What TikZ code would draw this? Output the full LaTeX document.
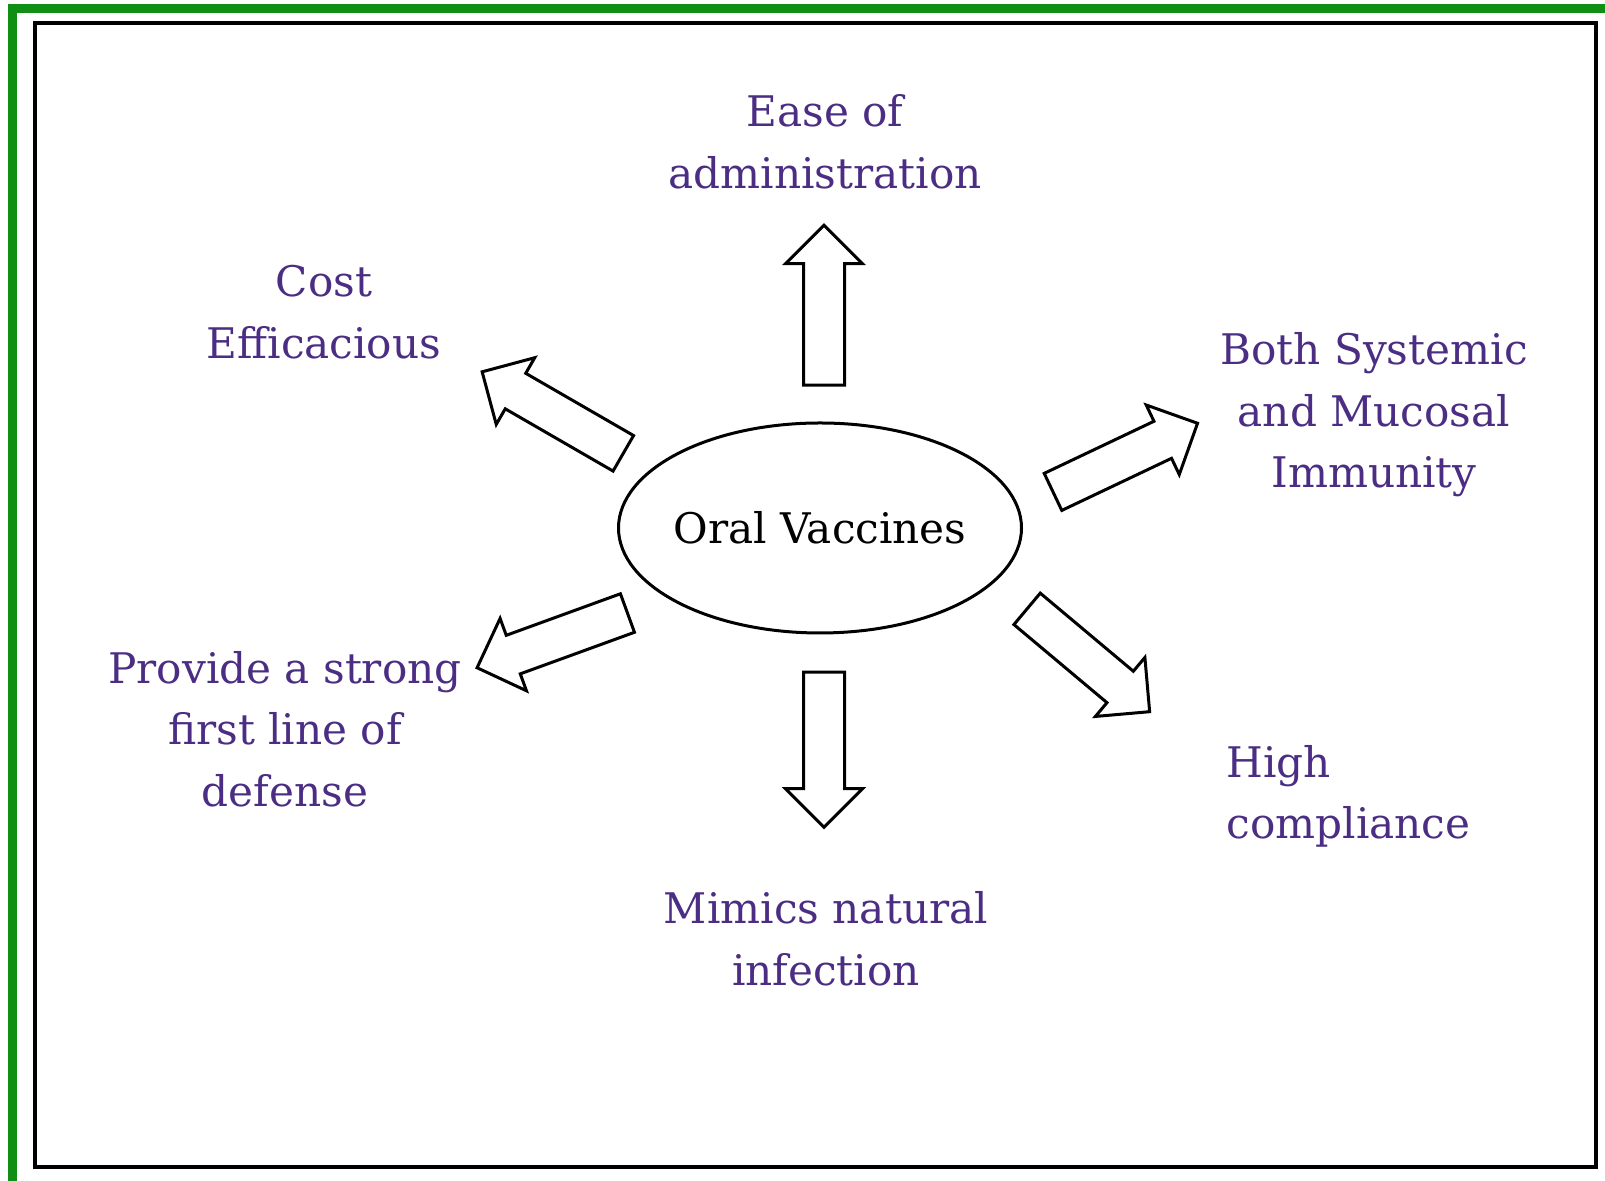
\documentclass[tikz,border=0pt]{standalone}
\usepackage{fontspec}
\setmainfont{DejaVu Serif}
\usetikzlibrary{shapes.geometric, shapes.arrows, positioning}
\definecolor{frameGreen}{HTML}{0F8F14}
\definecolor{labelPurple}{HTML}{4B2E83}

\begin{document}
\begin{tikzpicture}[
    font=\fontsize{12}{17.5}\selectfont,
    blockarrow/.style={single arrow, draw=black, fill=white, line width=0.03cm,
      minimum height=1.6cm, single arrow head extend=0.18cm,
      inner ysep=0.19cm, inner xsep=0pt},
    benefit/.style={text=labelPurple, align=center, inner sep=0pt}]
    \useasboundingbox (0,0) rectangle (16.05,11.81);
    % frames
    \draw[frameGreen, line width=0.09cm] (0.125,-0.2) |- (16.3,11.727);
    \draw[line width=0.04cm] (0.345,0.135) rectangle (15.96,11.575);
    % centre
    \node[ellipse, draw, line width=0.03cm, minimum width=4.03cm,
          minimum height=2.10cm, inner xsep=-0.08cm, inner ysep=0pt] (oral) at (8.20,6.53) {Oral Vaccines};
    % arrows
    \node[blockarrow, rotate=90] (up) at (8.24,8.655) {};
    \node[blockarrow, rotate=-90, minimum height=1.55cm] (down) at (8.24,4.415) {};
    \node[blockarrow, rotate=150, minimum height=1.63cm] (upleft) at (5.616,7.633) {};
    \node[blockarrow, rotate=200] (lowleft) at (5.619,5.441) {};
    \node[blockarrow, rotate=25.4] (upright) at (11.16,7.19) {};
    \node[blockarrow, rotate=-40] (lowright) at (10.805,5.273) {};
    % benefits
    \node[benefit] (ease) at (8.25,10.39) {Ease of\\administration};
    \node[benefit] (cost) at (3.24,8.69) {Cost\\Efficacious};
    \node[benefit] (immunity) at (13.74,7.66) {Both Systemic\\and Mucosal\\Immunity};
    \node[benefit] (defense) at (2.85,4.52) {Provide a strong\\first line of\\defense};
    \node[benefit, align=left, anchor=west] (compliance) at (12.26,3.845) {High\\compliance};
    \node[benefit] (mimics) at (8.26,2.42) {Mimics natural\\infection};
\end{tikzpicture}
\end{document}
